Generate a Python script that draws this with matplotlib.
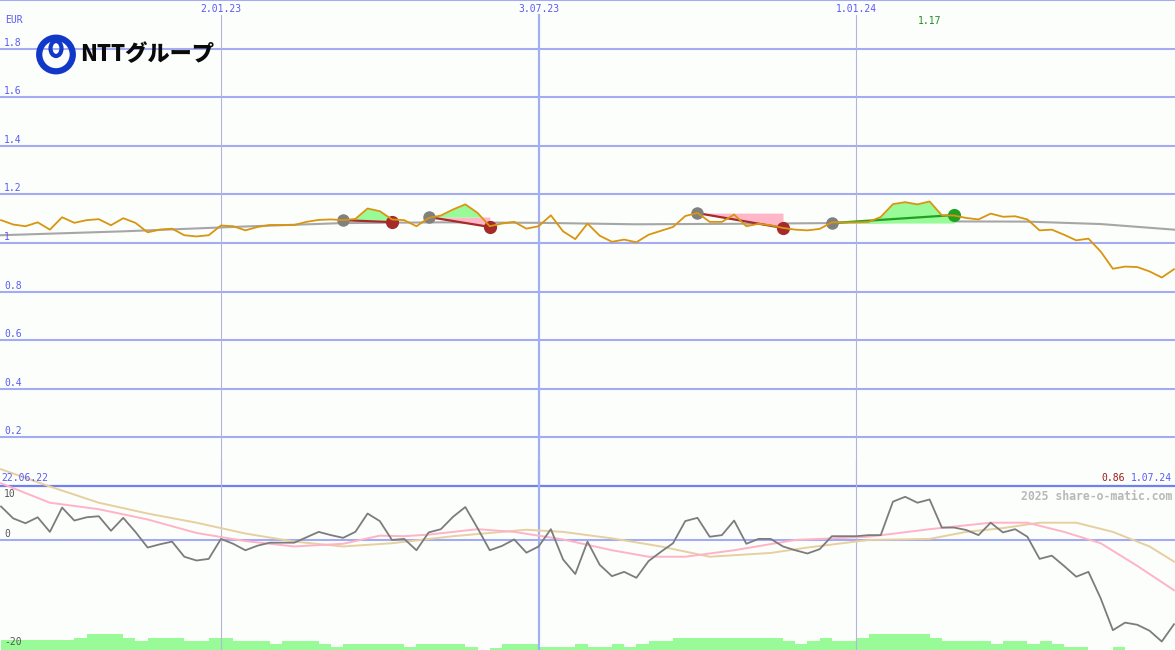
import numpy as np
import pandas as pd
import matplotlib
matplotlib.use("Agg")
import matplotlib.pyplot as plt
import matplotlib.transforms as mtransforms
from matplotlib.patches import Circle, Ellipse

plt.rcParams['font.family'] = ['DejaVu Sans Mono']

# weekly data, 29.08.22 .. 1.07.24
dates = pd.date_range('2022-08-29', periods=97, freq='7D')

price = [1.094, 1.076, 1.069, 1.085, 1.055, 1.106, 1.083, 1.094, 1.098, 1.073,
         1.102, 1.083, 1.044, 1.055, 1.059, 1.032, 1.027, 1.032, 1.072, 1.069,
         1.052, 1.066, 1.074, 1.074, 1.074, 1.087, 1.095, 1.097, 1.094, 1.099,
         1.142, 1.131, 1.097, 1.094, 1.069, 1.103, 1.113, 1.138, 1.159, 1.124,
         1.069, 1.080, 1.087, 1.059, 1.069, 1.114, 1.048, 1.016, 1.080, 1.030,
         1.005, 1.014, 1.003, 1.034, 1.050, 1.066, 1.111, 1.124, 1.087, 1.087,
         1.117, 1.069, 1.079, 1.073, 1.062, 1.055, 1.052, 1.058, 1.085, 1.085,
         1.085, 1.087, 1.107, 1.160, 1.168, 1.159, 1.171, 1.114, 1.113, 1.103,
         1.097, 1.121, 1.108, 1.110, 1.097, 1.052, 1.055, 1.034, 1.011, 1.018,
         0.965, 0.894, 0.903, 0.901, 0.883, 0.858, 0.892]

# long moving average of the price (read at a few weeks)
ma_weeks = [0, 10, 20, 28, 36, 44, 52, 60, 68, 76, 84, 90, 96]
ma_vals = [1.032, 1.048, 1.068, 1.082, 1.085, 1.083, 1.077, 1.079, 1.082, 1.089,
           1.088, 1.078, 1.055]

# trend signals: start week, end week, start value, end value, kind
sig_start = [28, 35, 57, 68]
sig_end = [32, 40, 64, 78]
sig_start_val = [1.094, 1.107, 1.123, 1.082]
sig_end_val = [1.086, 1.066, 1.062, 1.115]
sig_kind = ['down', 'down', 'down', 'up']

# momentum oscillator
momentum = [6.2, 4.0, 3.1, 4.2, 1.5, 6.0, 3.6, 4.2, 4.4, 1.7,
            4.1, 1.5, -1.4, -0.8, -0.3, -3.1, -3.8, -3.5, 0.2, -0.7,
            -1.9, -1.05, -0.5, -0.5, -0.5, 0.5, 1.5, 0.9, 0.4, 1.5,
            4.9, 3.5, 0.0, 0.2, -1.9, 1.4, 2.0, 4.3, 6.1, 2.2,
            -1.9, -1.1, 0.1, -2.35, -1.2, 2.0, -3.6, -6.3, -0.3, -4.6,
            -6.7, -5.9, -7.0, -3.9, -2.2, -0.6, 3.5, 4.1, 0.6, 0.9,
            3.6, -0.7, 0.2, 0.2, -1.2, -1.9, -2.5, -1.7, 0.7, 0.7,
            0.7, 0.9, 0.9, 7.1, 8.0, 6.9, 7.5, 2.3, 2.3, 1.85,
            0.9, 3.2, 1.4, 2.0, 0.6, -3.5, -2.9, -4.8, -6.8, -5.9,
            -10.8, -16.7, -15.3, -15.7, -16.8, -18.8, -15.6]

pink_weeks = [0, 4, 8, 12, 16, 20, 24, 28, 31, 33, 35, 39, 42, 46, 50, 53, 56,
              60, 65, 71, 76, 81, 84, 87, 90, 93, 96]
pink_vals = [10.5, 6.9, 5.7, 3.8, 1.3, -0.2, -1.2, -0.7, 0.8, 0.7, 1.0, 2.0, 1.5,
             0.1, -1.9, -3.1, -3.1, -1.9, 0.0, 0.6, 2.0, 3.2, 3.2, 1.5, -0.6,
             -4.8, -9.3]

beige_weeks = [0, 4, 8, 12, 16, 20, 24, 28, 32, 37, 43, 46, 50, 54, 58, 63, 66,
               71, 76, 79, 82, 85, 88, 91, 94, 96]
beige_vals = [13.1, 9.9, 6.9, 4.9, 3.2, 1.2, -0.3, -1.2, -0.6, 0.7, 1.9, 1.5, 0.3,
              -1.2, -3.1, -2.4, -1.4, 0.0, 0.2, 1.5, 2.2, 3.2, 3.2, 1.5, -1.2,
              -4.0]

volume = [10, 10, 10, 10, 10, 10, 12, 16, 16, 16,
          12, 9, 12, 12, 12, 9, 9, 12, 12, 9,
          9, 9, 6, 9, 9, 9, 6, 3, 6, 6,
          6, 6, 6, 3, 6, 6, 6, 6, 3, 0,
          2, 6, 6, 6, 3, 3, 3, 6, 3, 3,
          6, 3, 6, 9, 9, 12, 12, 12, 12, 12,
          12, 12, 12, 12, 9, 6, 9, 12, 9, 9,
          12, 16, 16, 16, 16, 16, 12, 9, 9, 9,
          9, 6, 9, 9, 6, 9, 6, 3, 3, 0,
          0, 3, 0, 0, 0, 0, 0]

price_ticks = [0.2, 0.4, 0.6, 0.8, 1.0, 1.2, 1.4, 1.6, 1.8]
date_lines = pd.to_datetime(['2023-01-02', '2023-07-03', '2024-01-01'])
date_labels = ['2.01.23', '3.07.23', '1.01.24']

# colours
BG = '#fcfefc'
GRID = '#a3abf3'
BLUE_TXT = '#5a5af5'

W, H = 1175, 650
fig = plt.figure(figsize=(11.75, 6.5), dpi=100, facecolor=BG)


def box(top, bottom):
    return [0, 1 - bottom / H, 1, (bottom - top) / H]


ax_top = fig.add_axes(box(0, 486))
ax_vol = fig.add_axes(box(460, 650))
ax_bot = fig.add_axes(box(460, 650))
ax_px = fig.add_axes([0, 0, 1, 1])

xlim = (dates[0] - pd.Timedelta(hours=14), dates[-1] + pd.Timedelta(hours=14))
for ax in (ax_top, ax_vol, ax_bot):
    ax.set_xlim(xlim)
    ax.axis('off')
ax_top.set_ylim(0, 2.0)
ax_bot.set_ylim(-20.37, 14.81)
ax_vol.set_ylim(0, 190)
ax_px.set_xlim(0, W)
ax_px.set_ylim(H, 0)
ax_px.axis('off')

# ---- price panel ----
for v in price_ticks:
    ax_top.axhline(v, color=GRID, lw=1.5, zorder=1)
    ax_top.annotate(f"{v:g}", (0, v), xycoords=('axes fraction', 'data'),
                    xytext=(4, 1), textcoords='offset pixels',
                    fontsize=7, color=BLUE_TXT, va='bottom', ha='left')
ax_top.axhline(2.0, color=GRID, lw=1.5)
for d, lab in zip(date_lines, date_labels):
    mid = lab.startswith('3.07')
    ax_top.axvline(d, ymax=(486 - 15) / 486, color='#a4aef2' if mid else '#b4b4dc',
                   lw=1.6 if mid else 0.8, zorder=1)
    ax_top.text(d, 1 - 9 / 486, lab, transform=mtransforms.blended_transform_factory(
        ax_top.transData, ax_top.transAxes), fontsize=7, color=BLUE_TXT,
        ha='center', va='center')

ax_top.plot(dates[ma_weeks], ma_vals, color='#a6a6a6', lw=1.5, zorder=2)

price_arr = np.array(price)
for s, e, sv, ev, kind in zip(sig_start, sig_end, sig_start_val, sig_end_val, sig_kind):
    seg_d = dates[s:e + 1]
    seg_p = price_arr[s:e + 1]
    if kind == 'down':
        ax_top.fill_between([dates[s], dates[e]], [sv, sv], [sv, ev],
                            color='#ffb6c8', lw=0, zorder=2)
        col = '#a52a2a'
    else:
        col = '#22a022'
    ax_top.fill_between(seg_d, seg_p, sv, where=seg_p > sv, interpolate=True,
                        color='#98fb98', lw=0, zorder=2)
    ax_top.plot([dates[s], dates[e]], [sv, ev], color=col, lw=1.6, zorder=3)
    ax_top.plot(dates[s], sv, 'o', color='#808080', ms=9, mec='none', zorder=3)
    ax_top.plot(dates[e], ev, 'o', color=col, ms=9.5, mec='none', zorder=4)

ax_top.plot(dates, price, color='#d8950f', lw=1.3, zorder=5)

imax = int(np.argmax(price_arr))
ax_top.text(dates[imax], 1 - 21 / 486, f"{price_arr.max():.2f}", transform=mtransforms.blended_transform_factory(
    ax_top.transData, ax_top.transAxes), fontsize=7, color='#228b22', ha='center', va='center')

# ---- oscillator panel ----
ax_vol.bar(dates, volume, width=7, align='edge', color='#98fb98', lw=0)

ax_bot.axhline(10, color='#7080ef', lw=1.6, zorder=1)
ax_bot.axhline(0, color=GRID, lw=1.5, zorder=1)
for d, lab in zip(date_lines, date_labels):
    mid = lab.startswith('3.07')
    ax_bot.axvline(d, color='#a4aef2' if mid else '#b4b4dc',
                   lw=1.6 if mid else 0.8, zorder=1)

ax_bot.plot(dates[beige_weeks], beige_vals, color='#e6cfa0', lw=1.4, zorder=2)
ax_bot.plot(dates[pink_weeks], pink_vals, color='#ffb3c6', lw=1.4, zorder=3)
ax_bot.plot(dates, momentum, color='#7c7c7c', lw=1.3, zorder=4)

for v, dy, va in [(10, -3, 'top'), (0, 1, 'bottom'), (-20, 1, 'bottom')]:
    ax_bot.annotate(f"{v:g}", (0, v), xycoords=('axes fraction', 'data'),
                    xytext=(4, dy), textcoords='offset pixels',
                    fontsize=7, color='#555555', va=va, ha='left')

# ---- labels and logo ----
ax_px.text(5, 20, 'EUR', fontsize=7, color=BLUE_TXT, va='center', ha='left')
ax_px.text(1, 478, '22.06.22', fontsize=7, color=BLUE_TXT, va='center', ha='left')
ax_px.text(1172, 478, '1.07.24', fontsize=7, color=BLUE_TXT, va='center', ha='right')
ax_px.text(1125, 478, f"{price_arr.min():.2f}", fontsize=7, color='#a01818',
           va='center', ha='right')
ax_px.text(1172, 496, '2025 share-o-matic.com', fontsize=8.3, color='#b8b8b8',
           fontweight='bold', va='center', ha='right')

ax_px.add_patch(Circle((56, 54.5), 16.8, fill=False, ec='#1238c8', lw=4.5))
ax_px.add_patch(Ellipse((56, 48.5), 11, 15, fill=False, ec='#1238c8', lw=3.0))
ax_px.text(80, 55, 'NTTグループ', fontsize=16, fontweight='heavy', color='#0a0a0a',
           family=['Noto Sans CJK JP', 'DejaVu Sans'], va='center', ha='left')

fig.savefig('out.png', dpi=100, facecolor=BG)
